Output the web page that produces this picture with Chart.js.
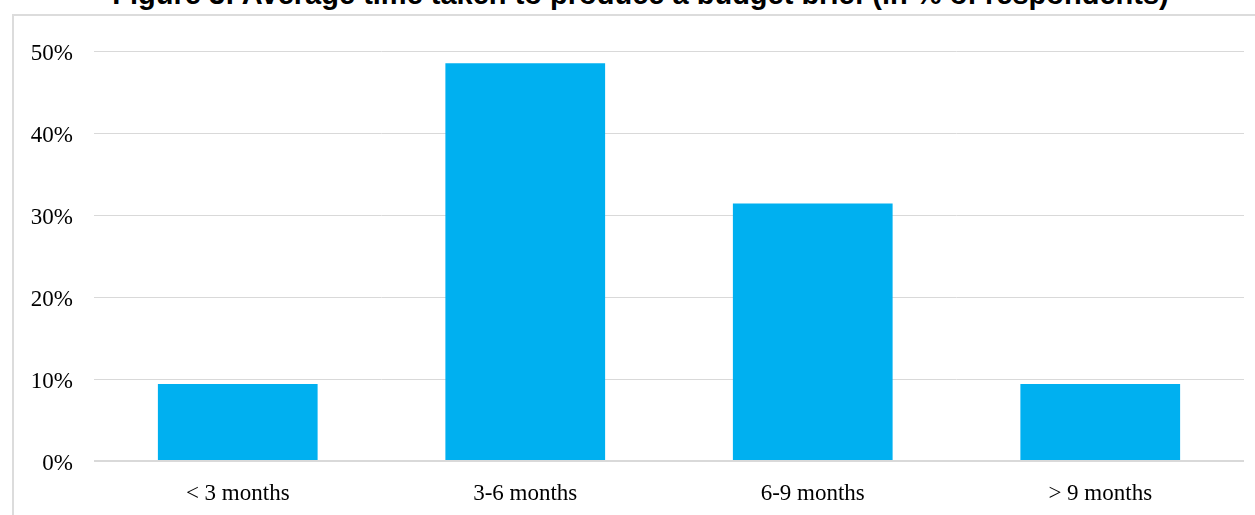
<!DOCTYPE html>
<html>
<head>
<meta charset="utf-8">
<script src="https://cdn.jsdelivr.net/npm/chart.js@4/dist/chart.umd.min.js"></script>
<style>
  html, body { margin: 0; padding: 0; background: #fff; overflow: hidden; }
  #wrap { position: relative; width: 1255px; height: 515px; overflow: hidden; }
  #frame { position: absolute; left: 12px; top: 14px; width: 1300px; height: 600px;
           border-left: 2px solid #dcdcdc; border-top: 2px solid #dcdcdc; box-sizing: border-box; }
  #title { position: absolute; left: 13px; top: -23px; width: 1255px; text-align: center;
           font: bold 29px/34px "Liberation Sans", Arial, sans-serif; color: #000; white-space: nowrap; }
  #chart { position: absolute; left: 0; top: 0; }
</style>
</head>
<body>
<div id="wrap">
  <div id="frame"></div>
  <div id="title">Figure 3: Average time taken to produce a budget brief (in % of respondents)</div>
  <canvas id="chart" width="1255" height="515"></canvas>
</div>
<script>
// Share of respondents by time needed to produce a budget brief
const categories = ['< 3 months', '3-6 months', '6-9 months', '> 9 months'];
const shares = [9.4, 48.5, 31.4, 9.4];
const yTicks = [0, 10, 20, 30, 40, 50];

const serif = '"Liberation Serif", "Times New Roman", serif';

new Chart(document.getElementById('chart'), {
  type: 'bar',
  data: {
    labels: categories,
    datasets: [{
      data: shares,
      backgroundColor: '#00B0F0',
      borderWidth: 0,
      categoryPercentage: 1,
      barPercentage: 1 / 1.8
    }]
  },
  options: {
    responsive: false,
    animation: false,
    layout: { padding: { top: 51, right: 11, bottom: 0, left: 0 } },
    plugins: { legend: { display: false }, tooltip: { enabled: false }, title: { display: false } },
    scales: {
      x: {
        grid: { display: false },
        border: { display: false },
        ticks: { color: '#000', font: { family: serif, size: 23 }, padding: 11 },
        afterFit: s => { s.height = 54; }
      },
      y: {
        min: yTicks[0],
        max: yTicks[yTicks.length - 1],
        afterBuildTicks: s => { s.ticks = yTicks.map(v => ({ value: v })); },
        grid: {
          drawTicks: false,
          color: '#d9d9d9',
          lineWidth: c => (c.tick && c.tick.value === 0 ? 2 : 1)
        },
        border: { display: false },
        ticks: {
          color: '#000',
          font: { family: serif, size: 23 },
          padding: 21,
          labelOffset: 2.5,
          callback: v => v + '%'
        },
        afterFit: s => { s.width = 94; }
      }
    }
  }
});
</script>
</body>
</html>
